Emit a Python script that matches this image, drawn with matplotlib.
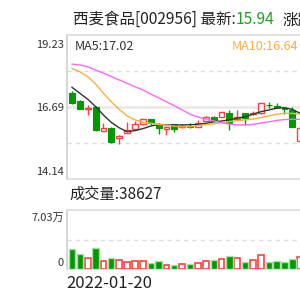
import matplotlib
matplotlib.use("Agg")
import matplotlib.pyplot as plt
import numpy as np

plt.rcParams['font.family'] = ['Noto Sans CJK SC', 'DejaVu Sans']

# daily candles (red = up, green = down)
opens = [17.19, 16.91, 16.62, 16.70, 15.85, 15.95, 15.60, 15.78, 15.90, 16.08,
         16.26, 16.07, 15.91, 16.07, 15.98, 16.00, 15.99, 16.20, 16.34, 16.34,
         16.46, 16.25, 16.46, 16.44, 16.46, 16.77, 16.72, 16.66, 16.58, 15.50]
highs = [17.26, 16.93, 16.76, 16.72, 16.13, 15.99, 15.70, 16.14, 16.19, 16.27,
         16.27, 16.13, 16.00, 16.09, 16.07, 16.11, 16.23, 16.36, 16.36, 16.52,
         16.58, 16.58, 16.48, 16.54, 16.84, 16.87, 16.82, 16.70, 16.70, 16.00]
lows = [16.80, 16.60, 16.40, 15.85, 15.85, 15.43, 15.38, 15.77, 15.88, 16.06,
        16.05, 15.73, 15.70, 15.79, 15.95, 15.93, 15.97, 16.18, 16.18, 16.32,
        15.87, 16.24, 16.05, 16.40, 16.44, 16.66, 16.66, 16.43, 15.97, 15.46]
closes = [16.82, 16.61, 16.66, 15.87, 15.95, 15.44, 15.65, 15.87, 16.07, 16.25,
          16.12, 15.93, 15.99, 15.91, 16.01, 15.98, 16.13, 16.34, 16.20, 16.50,
          16.13, 16.32, 16.29, 16.47, 16.82, 16.74, 16.67, 16.60, 15.99, 15.96]

ma5 = [17.38, 17.17, 16.96, 16.70, 16.40, 16.14, 15.95, 15.81, 15.85, 15.92,
       16.01, 16.07, 16.05, 16.05, 16.05, 16.06, 16.07, 16.11, 16.16, 16.19,
       16.23, 16.29, 16.34, 16.43, 16.52, 16.58, 16.64, 16.66, 16.60, 16.46]
ma10 = [18.05, 17.93, 17.76, 17.50, 17.17, 16.87, 16.60, 16.37, 16.23, 16.15,
        16.11, 16.07, 16.04, 16.01, 15.99, 15.99, 16.03, 16.06, 16.09, 16.13,
        16.17, 16.20, 16.23, 16.26, 16.31, 16.37, 16.43, 16.46, 16.46, 16.43]
ma20 = [18.20, 18.17, 18.11, 17.99, 17.88, 17.76, 17.64, 17.52, 17.40, 17.29,
        17.14, 17.01, 16.87, 16.73, 16.58, 16.43, 16.33, 16.26, 16.19, 16.13,
        16.08, 16.05, 16.05, 16.07, 16.12, 16.16, 16.21, 16.24, 16.25, 16.25]

volumes = [23800, 17900, 12700, 24600, 9700, 12700, 10300, 8100, 9300, 9700,
           6700, 9700, 4600, 4800, 6300, 6300, 7500, 9500, 10700, 11500,
           15900, 12700, 8700, 10300, 16300, 8700, 9900, 8700, 11900, 14600]

price_min, price_max = 14.14, 19.23
vol_max = 70300
price_ticks = ["19.23", "16.69", "14.14"]
vol_ticks = ["7.03万", "0"]
first_date = "2022-01-20"

RED = '#ff4040'
GREEN = '#009a00'
GRID = '#dddddd'

fig = plt.figure(figsize=(3, 3), dpi=100)
ax = fig.add_axes([67 / 300, 121 / 300, 243 / 300, 144 / 300])
axv = fig.add_axes([67 / 300, 31 / 300, 243 / 300, 59 / 300])

x = np.arange(len(opens))
o = np.array(opens)
c = np.array(closes)
h = np.array(highs)
l = np.array(lows)
up = c >= o
body_lo = np.minimum(o, c)
body_hi = np.maximum(o, c)
colors = np.where(up, RED, GREEN)

# wicks above and below the body
ax.vlines(x, body_hi, h, colors=colors, lw=1, zorder=3)
ax.vlines(x, l, body_lo, colors=colors, lw=1, zorder=3)
# bodies: hollow red, filled green
ax.bar(x[up], (body_hi - body_lo)[up], bottom=body_lo[up], width=0.72,
       facecolor='white', edgecolor=RED, lw=1, zorder=4)
ax.bar(x[~up], (body_hi - body_lo)[~up], bottom=body_lo[~up], width=0.76,
       facecolor=GREEN, edgecolor=GREEN, lw=0.8, zorder=4)

ax.plot(x, ma5, color='#333333', lw=1, zorder=5)
ax.plot(x, ma10, color='#f7b040', lw=1, zorder=5)
ax.plot(x, ma20, color='#ff66ff', lw=1, zorder=5)

mid = (price_min + price_max) / 2
q = (price_max - price_min) / 4
ax.axhline(price_max - q, color=GRID, lw=1, ls=(0, (3, 3)), zorder=1)
ax.axhline(price_min + q, color=GRID, lw=1, ls=(0, (3, 3)), zorder=1)
ax.axhline(mid, color='#e8e8e8', lw=1.8, zorder=1)

ax.set_xlim(-0.635, 30.24)
ax.set_ylim(price_min, price_max)

# volume panel
vol = np.array(volumes)
axv.bar(x[up], vol[up], width=0.72, facecolor='white',
        edgecolor=RED, lw=1.2, zorder=3)
axv.bar(x[~up], vol[~up], width=0.8, facecolor=GREEN,
        edgecolor='#a8dca8', lw=1, zorder=3)
axv.axhline(vol_max / 2, color=GRID, lw=1, ls=(0, (3, 3)), zorder=1)
axv.set_xlim(-0.635, 30.24)
axv.set_ylim(0, vol_max)

for a in (ax, axv):
    a.set_xticks([])
    a.set_yticks([])
    a.spines['right'].set_visible(False)
    a.spines['left'].set_color('#d0d0d0')
    a.spines['top'].set_color('#dddddd')
    a.spines['bottom'].set_color('#dddddd')
    for s in a.spines.values():
        s.set_linewidth(1.2)

# axis labels drawn inside the panel's range
for ypos, lab in zip([0.931, 0.49, 0.05], price_ticks):
    ax.text(-0.012, ypos, lab, transform=ax.transAxes, ha='right',
            va='center', fontsize=8, color='#333333')
for ypos, lab in zip([0.86, 0.10], vol_ticks):
    axv.text(-0.012, ypos, lab, transform=axv.transAxes, ha='right',
             va='center', fontsize=8, color='#333333')

# MA labels
fig.text(75 / 300, 1 - 46 / 300, "MA5:17.02", fontsize=9, color='#333333',
         va='center')
fig.text(298 / 300, 1 - 46 / 300, "MA10:16.64", fontsize=9, color='#f7b040',
         va='center', ha='right')

# header
t1 = fig.text(73 / 300, 1 - 24 / 300, "西麦食品[002956] 最新:", fontsize=11.2,
              color='#222222', va='baseline')
t2 = fig.text(0, 0, "", fontsize=1)
t2 = plt.annotate("15.94", xy=(1, 0), xycoords=t1, fontsize=11.2,
                  color='#20a020', va='bottom', annotation_clip=False)
plt.annotate("涨跌", xy=(1, 0), xycoords=t2, xytext=(6, 0),
             textcoords='offset points', fontsize=11.2, color='#222222',
             va='bottom', annotation_clip=False)

fig.text(69 / 300, 1 - 194 / 300, "成交量:38627", fontsize=11, color='#222222',
         va='center')
fig.text(66 / 300, 1 - 284 / 300, first_date, fontsize=12, color='#222222',
         va='center')

fig.savefig("out.png", dpi=100)
